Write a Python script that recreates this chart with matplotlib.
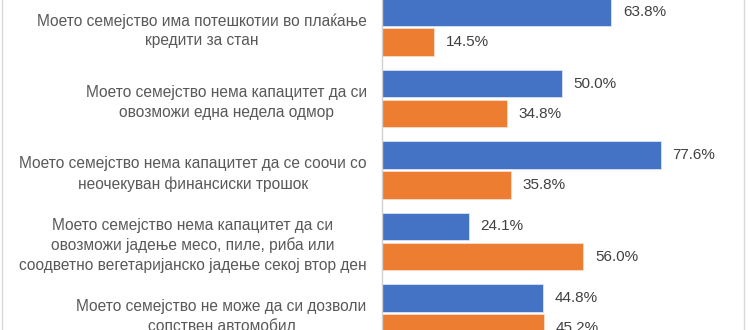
import matplotlib
matplotlib.use('Agg')
import matplotlib.pyplot as plt
from matplotlib.lines import Line2D
import numpy as np

plt.rcParams['font.family'] = ['Liberation Sans', 'DejaVu Sans']

categories = [
    "Моето семејство има потешкотии во плаќање\nкредити за стан",
    "Моето семејство нема капацитет да си\nовозможи една недела одмор",
    "Моето семејство нема капацитет да се соочи со\nнеочекуван финансиски трошок",
    "Моето семејство нема капацитет да си\nовозможи јадење месо, пиле, риба или\nсоодветно вегетаријанско јадење секој втор ден",
    "Моето семејство не може да си дозволи\nсопствен автомобил",
]
series_blue = [63.8, 50.0, 77.6, 24.1, 44.8]
series_orange = [14.5, 34.8, 35.8, 56.0, 45.2]

blue = '#4472C4'
orange = '#ED7D31'
text_gray = '#595959'
value_gray = '#404040'

fig = plt.figure(figsize=(7.5, 3.3), dpi=100)
ax = fig.add_axes([382 / 750, 0, 1 - 382 / 750, 1])

y = np.arange(len(categories))
h = 0.39
off = 0.21

b1 = ax.barh(y - off, series_blue, height=h, color=blue, edgecolor='#dce4f2', linewidth=0.6)
b2 = ax.barh(y + off, series_orange, height=h, color=orange, edgecolor='#f8dccb', linewidth=0.6)

ax.bar_label(b1, labels=[f"{v:.1f}%" for v in series_blue], padding=8.5,
             fontsize=11, color=value_gray)
ax.bar_label(b2, labels=[f"{v:.1f}%" for v in series_orange], padding=8.5,
             fontsize=11, color=value_gray)

ax.set_xlim(0, (750 - 382) / 3.59)
ax.set_ylim(4.238, -0.378)

ax.set_yticks(y)
ax.set_yticklabels(categories, fontsize=11.2, color=text_gray)
for lab in ax.get_yticklabels():
    lab.set_multialignment('center')
    lab.set_linespacing(1.38)
ax.tick_params(axis='y', length=0, pad=11)
ax.tick_params(axis='x', bottom=False, labelbottom=False)

for s in ['top', 'right', 'bottom']:
    ax.spines[s].set_visible(False)
ax.spines['left'].set_color('#d0d0d0')
ax.spines['left'].set_linewidth(1.0)

# chart frame edges
fig.add_artist(Line2D([2 / 750, 2 / 750], [0, 1], color='#d9d9d9', lw=1))
fig.add_artist(Line2D([744 / 750, 744 / 750], [0, 1], color='#d9d9d9', lw=1))

fig.savefig('out.png', dpi=100)
